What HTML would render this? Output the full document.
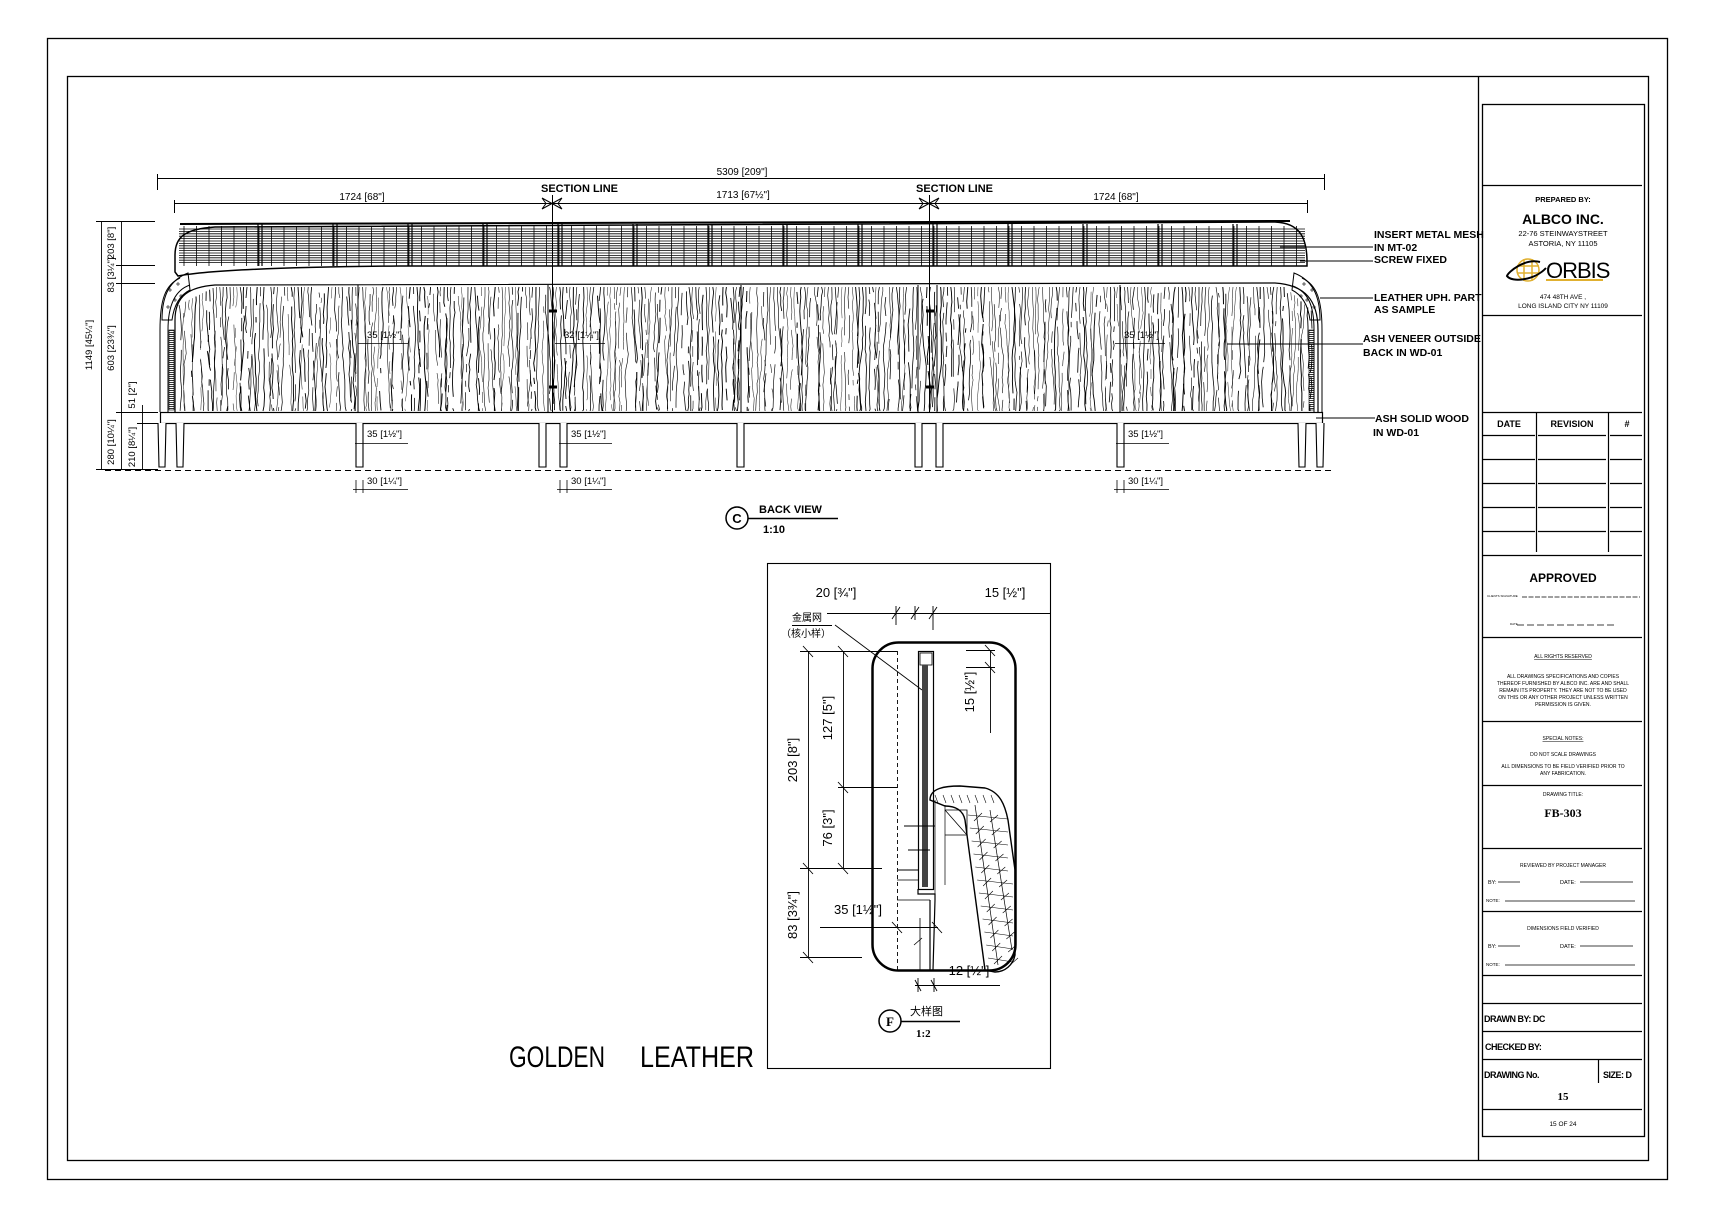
<!DOCTYPE html>
<html><head><meta charset="utf-8"><style>
html,body{margin:0;padding:0;background:#fff;width:1717px;height:1218px;overflow:hidden}
svg{display:block}
text{font-family:"Liberation Sans","Noto Sans CJK SC",sans-serif;fill:#000}
.s{font-family:"Liberation Serif","Noto Serif CJK SC",serif;font-weight:bold}
.n{font-family:"Liberation Sans Narrow","Liberation Sans",sans-serif}
</style></head><body>
<svg id="sv" width="1717" height="1218" viewBox="0 0 1717 1218" xmlns="http://www.w3.org/2000/svg" fill="none" stroke="#000" stroke-width="1">
<rect x="47.5" y="38.5" width="1620" height="1141" stroke-width="1.3"/>
<rect x="67.5" y="76.5" width="1581" height="1084" stroke-width="1.3"/>
<line x1="1478.5" y1="76" x2="1478.5" y2="1161" stroke-width="1.3"/>
<rect x="1482.5" y="104.5" width="162" height="1032" stroke-width="1.3"/>
<g stroke-width="1.2">
<line x1="1482" y1="185.5" x2="1642" y2="185.5"/>
<line x1="1482" y1="315.5" x2="1642" y2="315.5"/>
<line x1="1482" y1="412.5" x2="1642" y2="412.5"/>
<line x1="1482" y1="435.5" x2="1535" y2="435.5"/><line x1="1538" y1="435.5" x2="1606" y2="435.5"/><line x1="1610" y1="435.5" x2="1642" y2="435.5"/>
<line x1="1482" y1="459.5" x2="1535" y2="459.5"/><line x1="1538" y1="459.5" x2="1606" y2="459.5"/><line x1="1610" y1="459.5" x2="1642" y2="459.5"/>
<line x1="1482" y1="483.5" x2="1535" y2="483.5"/><line x1="1538" y1="483.5" x2="1606" y2="483.5"/><line x1="1610" y1="483.5" x2="1642" y2="483.5"/>
<line x1="1482" y1="507.5" x2="1535" y2="507.5"/><line x1="1538" y1="507.5" x2="1606" y2="507.5"/><line x1="1610" y1="507.5" x2="1642" y2="507.5"/>
<line x1="1482" y1="531.5" x2="1535" y2="531.5"/><line x1="1538" y1="531.5" x2="1606" y2="531.5"/><line x1="1610" y1="531.5" x2="1642" y2="531.5"/>
<line x1="1536.5" y1="412" x2="1536.5" y2="552"/><line x1="1608.5" y1="412" x2="1608.5" y2="552"/>
<line x1="1482" y1="555.5" x2="1642" y2="555.5"/>
<line x1="1482" y1="637.5" x2="1642" y2="637.5"/>
<line x1="1482" y1="721.5" x2="1642" y2="721.5"/>
<line x1="1482" y1="785.5" x2="1642" y2="785.5"/>
<line x1="1482" y1="848.5" x2="1642" y2="848.5"/>
<line x1="1482" y1="911.5" x2="1642" y2="911.5"/>
<line x1="1482" y1="975.5" x2="1642" y2="975.5"/>
<line x1="1482" y1="1003.5" x2="1642" y2="1003.5"/>
<line x1="1482" y1="1031.5" x2="1642" y2="1031.5"/>
<line x1="1482" y1="1059.5" x2="1642" y2="1059.5"/>
<line x1="1598.5" y1="1059" x2="1598.5" y2="1083"/>
<line x1="1482" y1="1109.5" x2="1642" y2="1109.5"/>
</g>
<g stroke-width="0.8">
<line x1="1522" y1="597" x2="1640" y2="597" stroke-dasharray="5 1.5"/>
<line x1="1517" y1="625" x2="1615" y2="625" stroke-dasharray="7 3"/>
<line x1="1498" y1="882" x2="1520" y2="882"/><line x1="1580" y1="882" x2="1633" y2="882"/>
<line x1="1505" y1="901" x2="1635" y2="901"/>
<line x1="1498" y1="946" x2="1520" y2="946"/><line x1="1580" y1="946" x2="1633" y2="946"/>
<line x1="1505" y1="965" x2="1635" y2="965"/>
</g>
<g stroke="none">
<text x="1563" y="202" font-size="7.5" text-anchor="middle" font-weight="bold">PREPARED BY:</text>
<text x="1563" y="224" font-size="14" text-anchor="middle" font-weight="bold">ALBCO INC.</text>
<text x="1563" y="236" font-size="7.5" text-anchor="middle">22-76 STEINWAYSTREET</text>
<text x="1563" y="246" font-size="7.5" text-anchor="middle">ASTORIA, NY 11105</text>
<text x="1546" y="278" font-size="22" font-family="Liberation Serif" letter-spacing="-1">ORBIS</text>
<text x="1563" y="299" font-size="6.5" text-anchor="middle">474 48TH AVE ,</text>
<text x="1563" y="308" font-size="6.5" text-anchor="middle">LONG ISLAND CITY NY 11109</text>
<text x="1509" y="427" font-size="9" text-anchor="middle" font-weight="bold">DATE</text>
<text x="1572" y="427" font-size="9" text-anchor="middle" font-weight="bold">REVISION</text>
<text x="1627" y="427" font-size="9" text-anchor="middle" font-weight="bold">#</text>
<text x="1563" y="582" font-size="12" text-anchor="middle" font-weight="bold">APPROVED</text>
<text x="1487" y="597" font-size="3">CLIENTS SIGNATURE</text>
<text x="1510" y="625" font-size="3">DATE</text>
<text x="1563" y="658" font-size="5" text-anchor="middle" text-decoration="underline">ALL RIGHTS RESERVED</text>
<text x="1563" y="678" font-size="5" text-anchor="middle">ALL DRAWINGS SPECIFICATIONS AND COPIES</text>
<text x="1563" y="685" font-size="5" text-anchor="middle">THEREOF FURNISHED BY ALBCO INC. ARE AND SHALL</text>
<text x="1563" y="692" font-size="5" text-anchor="middle">REMAIN ITS PROPERTY. THEY ARE NOT TO BE USED</text>
<text x="1563" y="699" font-size="5" text-anchor="middle">ON THIS OR ANY OTHER PROJECT UNLESS WRITTEN</text>
<text x="1563" y="706" font-size="5" text-anchor="middle">PERMISSION IS GIVEN.</text>
<text x="1563" y="740" font-size="5" text-anchor="middle" text-decoration="underline">SPECIAL NOTES:</text>
<text x="1563" y="756" font-size="5" text-anchor="middle">DO NOT SCALE DRAWINGS</text>
<text x="1563" y="768" font-size="5" text-anchor="middle">ALL DIMENSIONS TO BE FIELD VERIFIED PRIOR TO</text>
<text x="1563" y="775" font-size="5" text-anchor="middle">ANY FABRICATION.</text>
<text x="1563" y="796" font-size="5" text-anchor="middle">DRAWING TITLE:</text>
<text x="1563" y="817" font-size="12" text-anchor="middle" class="s">FB-303</text>
<text x="1563" y="867" font-size="5" text-anchor="middle">REVIEWED BY PROJECT MANAGER</text>
<text x="1488" y="884" font-size="5.5">BY:</text><text x="1560" y="884" font-size="5.5">DATE:</text>
<text x="1486" y="902" font-size="4.5">NOTE:</text>
<text x="1563" y="930" font-size="5" text-anchor="middle">DIMENSIONS FIELD VERIFIED</text>
<text x="1488" y="948" font-size="5.5">BY:</text><text x="1560" y="948" font-size="5.5">DATE:</text>
<text x="1486" y="966" font-size="4.5">NOTE:</text>
<text x="1484" y="1022" font-size="9" font-weight="bold" letter-spacing="-0.5">DRAWN BY: DC</text>
<text x="1485" y="1050" font-size="9" font-weight="bold" letter-spacing="-0.5">CHECKED BY:</text>
<text x="1484" y="1078" font-size="9" font-weight="bold" letter-spacing="-0.5">DRAWING No.</text>
<text x="1603" y="1078" font-size="9" font-weight="bold" letter-spacing="-0.5">SIZE: D</text>
<text x="1563" y="1100" font-size="11" text-anchor="middle" class="s">15</text>
<text x="1563" y="1126" font-size="6.5" text-anchor="middle">15  OF 24</text>
</g>
<g stroke="#e0b030" stroke-width="1.5"><circle cx="1528" cy="270" r="11"/><line x1="1517" y1="266" x2="1539" y2="266"/><line x1="1517" y1="273" x2="1539" y2="273"/><line x1="1524" y1="259" x2="1524" y2="281"/><line x1="1532" y1="259" x2="1532" y2="281"/></g>
<path d="M1540,262 C1525,258 1508,272 1507,276 C1512,283 1535,280 1546,268" stroke-width="2"/>
<rect x="1546" y="279" width="57" height="2" fill="#e0b030" stroke="none"/>

<g id="sofa">
<line x1="157" y1="178.5" x2="1324" y2="178.5"/><line x1="157.5" y1="174" x2="157.5" y2="190"/><line x1="1324.5" y1="174" x2="1324.5" y2="190"/>
<line x1="174" y1="203.5" x2="1307" y2="203.5"/><line x1="174.5" y1="200" x2="174.5" y2="213"/><line x1="1307.5" y1="200" x2="1307.5" y2="213"/>
<g stroke="none" font-size="10" class="n">
<text x="742" y="175" text-anchor="middle">5309 [209"]</text>
<text x="362" y="200" text-anchor="middle">1724 [68"]</text>
<text x="743" y="198" text-anchor="middle">1713 [67½"]</text>
<text x="1116" y="200" text-anchor="middle">1724 [68"]</text>
</g>
<g stroke="none" class="s" font-size="11">
<text x="541" y="192">SECTION LINE</text>
<text x="916" y="192">SECTION LINE</text>
</g>
<g stroke-width="1">
<line x1="552.5" y1="195" x2="552.5" y2="423"/><line x1="929.5" y1="195" x2="929.5" y2="423"/>
<path d="M542,198 L562,209 M542,209 L562,198 M542,198 L546,203.5 L542,209 M562,198 L558,203.5 L562,209"/>
<path d="M919,198 L939,209 M919,209 L939,198 M919,198 L923,203.5 L919,209 M939,198 L935,203.5 L939,209"/>
</g>
<g stroke-width="3"><line x1="549" y1="311" x2="557" y2="311"/><line x1="549" y1="387" x2="557" y2="387"/><line x1="926" y1="311" x2="934" y2="311"/><line x1="926" y1="387" x2="934" y2="387"/></g>
<path d="M175,272 L175,255 C175,236 186,229 215,227 L1275,222 C1300,223 1307,238 1307,262 L1307,266 C1000,266 500,266 400,266 C280,267 210,270 178,276 Z" stroke-width="1.5"/>
<g id="mesh" stroke-width="0.8"></g>
<path d="M175,412 L175,320 C175,295 190,287 215,285 L1275,283 C1305,285 1318,300 1318,330 L1318,412" stroke-width="1.2"/>
<g id="grain"></g>
<rect x="160.5" y="412.5" width="1162" height="11" fill="#fff" stroke-width="1.2"/>
<path d="M160,412 L160,330 C160,300 165,285 180,278 M168,412 L168,330 C168,305 175,290 190,285" stroke-width="1"/>
<path d="M162,320 C162,295 170,280 188,273 L190,290 C180,295 174,305 172,320 Z" stroke-width="1"/>
<path d="M1322,412 L1322,330 C1322,300 1317,285 1302,278 M1314,412 L1314,330 C1314,305 1308,292 1293,286" stroke-width="1"/>
<path d="M1320,320 C1320,295 1312,280 1294,273 L1292,290 C1302,295 1308,305 1310,320 Z" stroke-width="1"/>
<g stroke-width="0.6" id="plus"></g>
<defs><pattern id="hh" width="5" height="2" patternUnits="userSpaceOnUse"><line x1="0" y1="0.5" x2="5" y2="0.5" stroke="#000" stroke-width="0.8"/></pattern></defs>
<rect x="169" y="330" width="5" height="80" stroke-width="0.6" fill="url(#hh)"/>
<rect x="1309" y="330" width="5" height="80" stroke-width="0.6" fill="url(#hh)"/>
<g stroke-width="1.1" fill="#fff">
<path d="M158,423 L159,467 L165,467 L166,423"/>
<path d="M176,423 L177,467 L183,467 L184,423"/>
<path d="M356,423 L356,467 L363,467 L363,423"/>
<path d="M539,423 L539,467 L546,467 L546,423"/>
<path d="M560,423 L560,467 L567,467 L567,423"/>
<path d="M737,423 L737,467 L744,467 L744,423"/>
<path d="M915,423 L915,467 L922,467 L922,423"/>
<path d="M936,423 L936,467 L943,467 L943,423"/>
<path d="M1117,423 L1117,467 L1124,467 L1124,423"/>
<path d="M1298,423 L1299,467 L1305,467 L1306,423"/>
<path d="M1316,423 L1317,467 L1323,467 L1324,423"/>
</g>
<line x1="105" y1="470.5" x2="1335" y2="470.5" stroke-dasharray="6 4"/>
<g stroke-width="0.9">
<line x1="101.5" y1="221" x2="101.5" y2="470"/>
<line x1="121.5" y1="221" x2="121.5" y2="470"/>
<line x1="142.5" y1="405" x2="142.5" y2="470"/>
<line x1="96" y1="221.5" x2="155" y2="221.5"/>
<line x1="116" y1="265.5" x2="155" y2="265.5"/>
<line x1="116" y1="283.5" x2="155" y2="283.5"/>
<line x1="116" y1="412.5" x2="158" y2="412.5"/>
<line x1="137" y1="423.5" x2="158" y2="423.5"/>
<line x1="96" y1="469.5" x2="158" y2="469.5"/>
</g>
<g stroke="none" font-size="9.5" class="n">
<text transform="translate(92,345) rotate(-90)" text-anchor="middle">1149 [45¼"]</text>
<text transform="translate(114,243) rotate(-90)" text-anchor="middle">203 [8"]</text>
<text transform="translate(114,275) rotate(-90)" text-anchor="middle">83 [3¼"]</text>
<text transform="translate(114,348) rotate(-90)" text-anchor="middle">603 [23¾"]</text>
<text transform="translate(114,442) rotate(-90)" text-anchor="middle">280 [10¼"]</text>
<text transform="translate(135,395) rotate(-90)" text-anchor="middle">51 [2"]</text>
<text transform="translate(135,447) rotate(-90)" text-anchor="middle">210 [8¼"]</text>
</g>
<g stroke-width="0.8" id="sd"></g>
<g stroke-width="1">
<line x1="1280" y1="247" x2="1373" y2="247"/>
<line x1="1300" y1="261" x2="1373" y2="261"/>
<line x1="1320" y1="298" x2="1373" y2="298"/>
<line x1="1227" y1="344" x2="1363" y2="344"/>
<line x1="1316" y1="418" x2="1375" y2="418"/>
</g>
<g stroke="none" class="s" font-size="10.5">
<text x="1374" y="238">INSERT METAL MESH</text>
<text x="1374" y="251">IN MT-02</text>
<text x="1374" y="263">SCREW FIXED</text>
<text x="1374" y="301">LEATHER UPH. PART</text>
<text x="1374" y="313">AS SAMPLE</text>
<text x="1363" y="342">ASH VENEER OUTSIDE</text>
<text x="1363" y="356">BACK IN WD-01</text>
<text x="1375" y="422">ASH SOLID WOOD</text>
<text x="1373" y="436">IN WD-01</text>
</g>
<circle cx="737" cy="518" r="11" stroke-width="1.5"/>
<line x1="748" y1="518.5" x2="838" y2="518.5" stroke-width="1.5"/>
<g stroke="none" class="s">
<text x="737" y="523" font-size="13" text-anchor="middle">C</text>
<text x="759" y="513" font-size="11">BACK VIEW</text>
<text x="763" y="533" font-size="11">1:10</text>
</g>
</g>

<rect x="767.5" y="563.5" width="283" height="505" stroke-width="1.1"/>
<rect x="872.5" y="642.5" width="143" height="328" rx="26" stroke-width="2.5"/>
<g stroke-width="0.9">
<line x1="827" y1="613.5" x2="1050" y2="613.5"/>
<path d="M892,619 L900,607 M911,619 L919,607 M929,619 L937,607 M896,606 L896,625 M915,606 L915,620 M933,606 L933,630"/>
<line x1="808.5" y1="651" x2="808.5" y2="958"/>
<line x1="843.5" y1="651" x2="843.5" y2="868"/>
<line x1="800" y1="651.5" x2="897" y2="651.5"/>
<line x1="838" y1="787.5" x2="897" y2="787.5"/>
<line x1="800" y1="868.5" x2="882" y2="868.5"/>
<line x1="800" y1="957.5" x2="862" y2="957.5"/>
<path d="M803,646 L813,657 M838,646 L848,657 M838,782 L848,793 M803,863 L813,874 M838,863 L848,874 M803,952 L813,963"/>
<line x1="897.5" y1="651" x2="897.5" y2="970" stroke-dasharray="4 3"/>
<line x1="820" y1="927.5" x2="938" y2="927.5"/>
<path d="M892,922 L902,933 M932,922 L942,933"/>
<line x1="990.5" y1="650" x2="990.5" y2="733"/>
<line x1="966" y1="650.5" x2="995" y2="650.5"/><line x1="966" y1="667.5" x2="995" y2="667.5"/>
<path d="M985,645 L995,656 M985,662 L995,673"/>
<line x1="915" y1="985.5" x2="1000" y2="985.5"/>
<path d="M915,980 L921,991 M931,980 L937,991 M918,978 L918,992 M934,978 L934,992"/>
<line x1="835" y1="625" x2="922" y2="690"/>
<line x1="792" y1="625.5" x2="832" y2="625.5"/>
</g>
<rect x="918.5" y="651.5" width="15" height="238" stroke-width="1.2"/>
<rect x="920" y="653" width="12" height="12" stroke-width="0.8"/>
<rect x="922" y="665" width="6" height="222" fill="#444" stroke="none"/>
<path d="M918,889 L918,894 L935,894 L935,900 L933,970 M930,900 L930,970" stroke-width="1.2"/>
<path d="M897,880 L918,880 M897,900 L930,900 M920,918 L920,970 L930,970 M914,945 L922,938" stroke-width="0.8"/>
<path d="M908,850 L930,850 M898,870 L918,870 M904,826 L935,826" stroke-width="1"/>
<path d="M935,800 L935,895 M945,805 L945,885" stroke-width="0.7"/>
<path d="M945,810 L967,810 L967,835 L945,835 M945,810 L967,835" stroke-width="0.8"/>
<path d="M930,800 C930,788 945,786 960,786 L985,788 C1000,792 1005,805 1008,820 L1015,870 L1015,955 C1013,965 1005,972 995,972 L985,970 L965,820 C963,810 955,806 945,806 Z" stroke-width="1.4"/>
<path d="M975,805 L998,965 M990,810 L1012,950" stroke-width="0.7"/>
<g stroke-width="0.6" id="hex"></g>
<g stroke="none">
<text x="792" y="621" font-size="10">金属网</text>
<text x="781" y="637" font-size="10">（核小样）</text>
<text x="836" y="597" font-size="13" text-anchor="middle" class="n">20 [¾"]</text>
<text x="1005" y="597" font-size="13" text-anchor="middle" class="n">15 [½"]</text>
<text transform="translate(797,760) rotate(-90)" font-size="13" text-anchor="middle" class="n">203 [8"]</text>
<text transform="translate(832,718) rotate(-90)" font-size="13" text-anchor="middle" class="n">127 [5"]</text>
<text transform="translate(832,828) rotate(-90)" font-size="13" text-anchor="middle" class="n">76 [3"]</text>
<text transform="translate(797,915) rotate(-90)" font-size="13" text-anchor="middle" class="n">83 [3¾"]</text>
<text transform="translate(974,692) rotate(-90)" font-size="13" text-anchor="middle" class="n">15 [½"]</text>
<text x="858" y="914" font-size="13" text-anchor="middle" class="n">35 [1½"]</text>
<text x="969" y="975" font-size="13" text-anchor="middle" class="n">12 [½"]</text>
</g>
<circle cx="890" cy="1021" r="11" stroke-width="1.5"/>
<line x1="901" y1="1021.5" x2="960" y2="1021.5" stroke-width="1.5"/>
<g stroke="none">
<text x="890" y="1026" font-size="13" text-anchor="middle" class="s">F</text>
<text x="910" y="1015" font-size="11">大样图</text>
<text x="916" y="1037" font-size="11" class="s">1:2</text>
</g>
<g stroke="none" font-size="30" font-family="Liberation Sans Narrow, Liberation Sans, sans-serif">
<text x="509" y="1067" textLength="96" lengthAdjust="spacingAndGlyphs">GOLDEN</text>
<text x="640" y="1067" textLength="114" lengthAdjust="spacingAndGlyphs">LEATHER</text>
</g>
</svg>
<script>
(function(){
var NS="http://www.w3.org/2000/svg";
function L(g,x1,y1,x2,y2,w){var l=document.createElementNS(NS,"line");l.setAttribute("x1",x1);l.setAttribute("y1",y1);l.setAttribute("x2",x2);l.setAttribute("y2",y2);if(w)l.setAttribute("stroke-width",w);g.appendChild(l);}
var seed=7;function r(){seed=(seed*16807)%2147483647;return seed/2147483647;}
var m=document.getElementById("mesh");
for(var y=229;y<=264;y+=2.4){L(m,179,y,1305,y);}
for(var x=184;x<1305;x+=12.5){L(m,x,226,x,266);}
for(var x=260;x<1300;x+=75){L(m,x-2,224,x-2,266,1.2);L(m,x+2,224,x+2,266,1.2);}
L(m,180,224,1290,221,2);
var g=document.getElementById("grain");
for(var x=179;x<1314;x+=3.4){var y=287+(x<215?(215-x)*0.5:0)+(x>1285?(x-1285)*0.9:0);var cx=x;var d="M"+cx.toFixed(1)+","+y;
 while(y<410){y+=4+r()*8;if(y>411)y=411;cx+=(r()-0.5)*2.2;if(r()<0.15){d+=" M"+cx.toFixed(1)+","+y.toFixed(1);}else d+=" L"+cx.toFixed(1)+","+y.toFixed(1);}
 var p=document.createElementNS(NS,"path");p.setAttribute("d",d);p.setAttribute("stroke-width",(0.4+r()*0.6).toFixed(2));g.appendChild(p);}
[358,548,741,918,937,1120].forEach(function(x){L(g,x,285,x,412,1);});
var pl=document.getElementById("plus");
[[170,290],[178,284],[175,300],[168,307],[181,296],[1312,290],[1304,284],[1307,300],[1314,307],[1301,296]].forEach(function(p){L(pl,p[0]-2,p[1],p[0]+2,p[1]);L(pl,p[0],p[1]-2,p[0],p[1]+2);});
var sd=document.getElementById("sd");
var T=document.getElementById("sv");
function tx(x,y,s){var t=document.createElementNS(NS,"text");t.setAttribute("x",x);t.setAttribute("y",y);t.setAttribute("font-size","9.5");t.setAttribute("stroke","none");t.setAttribute("class","n");t.textContent=s;T.appendChild(t);}
[[363,"35 [1½\"]"],[567,"35 [1½\"]"],[1124,"35 [1½\"]"]].forEach(function(a){var x=a[0];L(sd,x-8,443.5,x+45,443.5);tx(x+4,437,a[1]);L(sd,x-10,489.5,x+45,489.5);L(sd,x-7,480,x-7,493);L(sd,x,480,x,493);tx(x+4,484,"30 [1¼\"]");});
[[363,"35 [1½\"]"],[560,"32 [1¼\"]"],[1120,"35 [1½\"]"]].forEach(function(a){var x=a[0];L(sd,x-5,343.5,x+45,343.5);tx(x+4,338,a[1]);});
var h=document.getElementById("hex");
for(var i=0;i<12;i++){var y=815+i*13;var xl=968+(y-815)*0.14,xr=1008+(y>870?5:0);L(h,xl,y,xr,y+4);L(h,xl+6,y+6,xl+14,y-2);L(h,xl+22,y+7,xl+30,y);}
for(var k=0;k<8;k++){L(h,935+k*8,795,938+k*8,803);}
})();
</script>
</body></html>
